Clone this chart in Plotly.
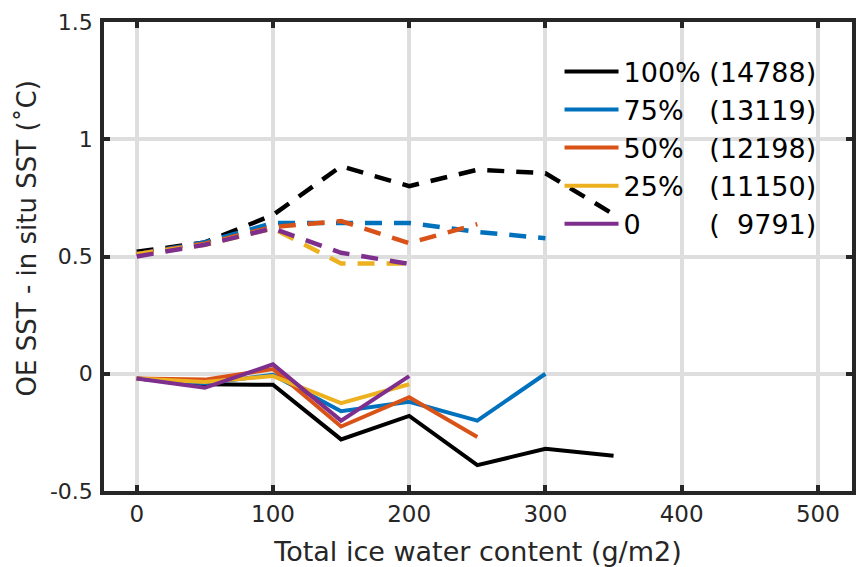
import plotly.graph_objects as go

x_vals = [0, 50, 100, 150, 200, 250, 300, 350]

labels = ["100% (14788)", "75%   (13119)", "50%   (12198)", "25%   (11150)", "0        (  9791)"]
colors = ["#000000", "#0072BD", "#D95319", "#EDB120", "#7E2F8E"]

solid_100 = [-0.02, -0.045, -0.047, -0.28, -0.18, -0.39, -0.32, -0.35]
solid_75 = [-0.02, -0.04, -0.005, -0.16, -0.12, -0.20, 0.0]
solid_50 = [-0.02, -0.025, 0.02, -0.225, -0.10, -0.27]
solid_25 = [-0.02, -0.035, -0.01, -0.125, -0.045]
solid_0 = [-0.02, -0.06, 0.04, -0.20, -0.01]

dash_100 = [0.52, 0.56, 0.677, 0.885, 0.80, 0.87, 0.855, 0.68]
dash_75 = [0.51, 0.56, 0.643, 0.645, 0.643, 0.605, 0.578]
dash_50 = [0.51, 0.555, 0.626, 0.651, 0.557, 0.638]
dash_25 = [0.51, 0.55, 0.62, 0.47, 0.47]
dash_0 = [0.50, 0.55, 0.62, 0.516, 0.468]

solids = [solid_100, solid_75, solid_50, solid_25, solid_0]
dashes = [dash_100, dash_75, dash_50, dash_25, dash_0]

FONT = "DejaVu Sans, sans-serif"
TXT = "#262626"

fig = go.Figure()
for lab, col, ys in zip(labels, colors, solids):
    fig.add_trace(go.Scatter(
        x=x_vals[:len(ys)], y=ys, mode="lines", name=lab.replace(" ", "\u00a0"),
        line=dict(color=col, width=4), showlegend=True))
for col, ys in zip(colors, dashes):
    fig.add_trace(go.Scatter(
        x=x_vals[:len(ys)], y=ys, mode="lines",
        line=dict(color=col, width=4.5, dash="17px,12px"), showlegend=False))

axis_common = dict(
    showline=True, linecolor=TXT, linewidth=3.5, mirror="ticks",
    ticks="inside", ticklen=6, tickwidth=3.5, tickcolor=TXT,
    showgrid=True, gridcolor="#dedede", gridwidth=3.5,
    zeroline=False,
)

fig.update_xaxes(range=[-24, 525], tickvals=[0, 100, 200, 300, 400, 500],
                 tickfont=dict(family=FONT, size=23, color=TXT),
                 ticklabelstandoff=0,
                 title=dict(text="Total ice water content (g/m2)",
                            font=dict(family=FONT, size=27, color=TXT), standoff=19),
                 **axis_common)
fig.update_yaxes(range=[-0.5, 1.5], tickvals=[-0.5, 0, 0.5, 1, 1.5],
                 ticktext=["-0.5", "0", "0.5", "1", "1.5"],
                 tickfont=dict(family=FONT, size=22, color=TXT),
                 ticklabelstandoff=3,
                 **axis_common)

fig.add_annotation(text="OE SST - in situ SST (\u02daC)", textangle=-90,
                   xref="paper", yref="paper",
                   x=(27 - 104) / 752, y=(491 - 238) / 469,
                   xanchor="center", yanchor="middle", showarrow=False,
                   font=dict(family=FONT, size=26, color=TXT))

fig.update_layout(
    width=856, height=567,
    margin=dict(l=104, r=0, t=22, b=76),
    plot_bgcolor="white", paper_bgcolor="white",
    font=dict(family=FONT, color=TXT),
    legend=dict(x=0.609, y=0.946, xref="paper", yref="paper",
                xanchor="left", yanchor="top",
                bgcolor="rgba(0,0,0,0)", borderwidth=0,
                font=dict(family=FONT, size=27, color="#000000"),
                itemwidth=54, tracegroupgap=0),
    showlegend=True,
)

fig.write_html("out.html")
